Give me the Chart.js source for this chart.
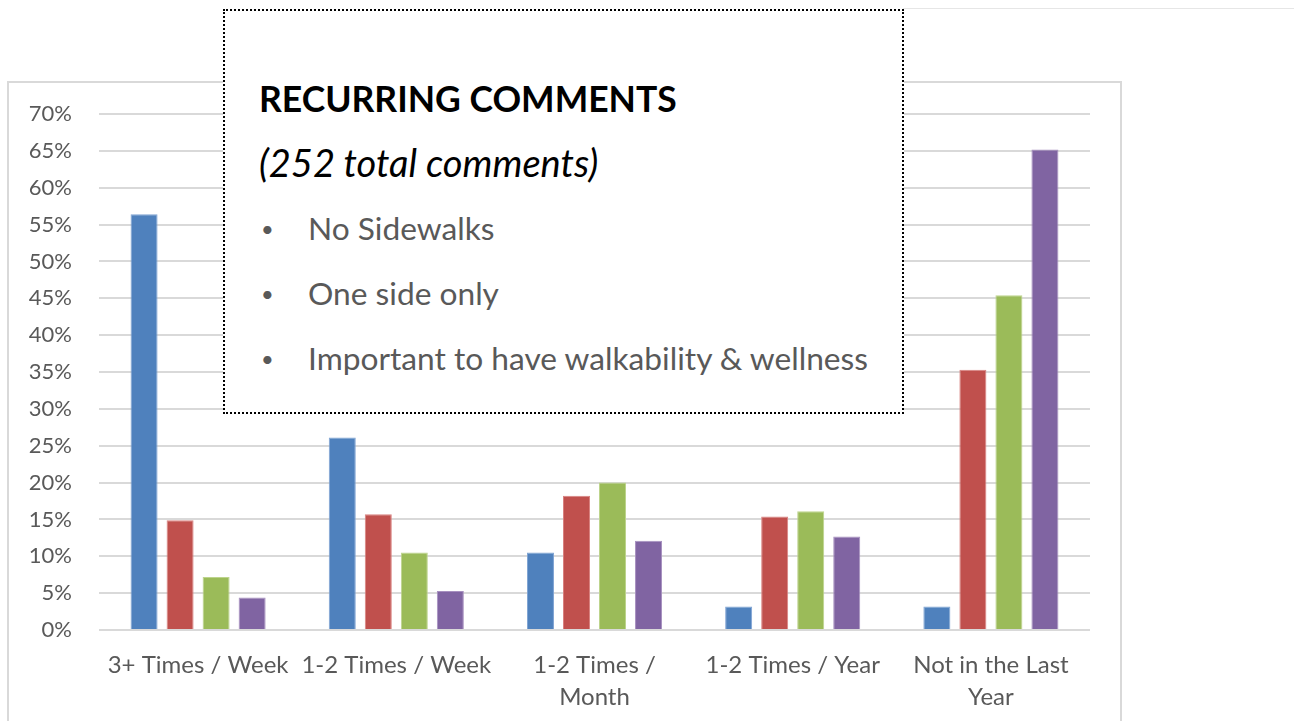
<!DOCTYPE html>
<html>
<head>
<meta charset="utf-8">
<script src="https://cdn.jsdelivr.net/npm/chart.js@4/dist/chart.umd.min.js"></script>
<style>
  html, body { margin: 0; padding: 0; background: #ffffff; }
  body { width: 1294px; height: 721px; position: relative; overflow: hidden; font-family: Lato, "Open Sans", sans-serif; }
  #topRule { position: absolute; left: 903px; top: 8px; width: 391px; height: 0; border-top: 1px solid #e6e6e6; }
  #frame { position: absolute; left: 7px; top: 81px; width: 1115px; height: 700px; border: 2px solid #d9d9d9; box-sizing: border-box; }
  #wrap { position: absolute; left: 0; top: 0; width: 1294px; height: 721px; }
  #note { position: absolute; left: 223px; top: 9px; width: 681px; height: 405px; box-sizing: border-box;
          border: 2px dotted #000; background: #ffffff; }
  #note .t { position: absolute; left: 34px; white-space: nowrap; }
  #note .title { top: 65px; font-weight: 700; font-size: 35.5px; color: #000; line-height: 46px; }
  #note .sub { top: 127px; font-style: italic; font-size: 38px; color: #000; line-height: 48px; }
  #note .item { font-size: 31.7px; color: #595959; line-height: 40px; }
  #note .item .dot { position: absolute; left: 2px; font-size: 22px; top: 1px; }
  #note .item .txt { position: absolute; left: 49px; }
</style>
</head>
<body>
<div id="topRule"></div>
<div id="frame"></div>
<div id="wrap"><canvas id="chart" width="1294" height="721"></canvas></div>
<div id="note">
  <div class="t title">RECURRING COMMENTS</div>
  <div class="t sub">(252 total comments)</div>
  <div class="t item" style="top:197px"><span class="dot">•</span><span class="txt">No Sidewalks</span></div>
  <div class="t item" style="top:262px"><span class="dot">•</span><span class="txt">One side only</span></div>
  <div class="t item" style="top:327px"><span class="dot">•</span><span class="txt">Important to have walkability &amp; wellness</span></div>
</div>
<script>
// Walking frequency categories (multi-line where the axis label wraps)
const categories = [
  ["3+ Times / Week"],
  ["1-2 Times / Week"],
  ["1-2 Times /", "Month"],
  ["1-2 Times / Year"],
  ["Not in the Last", "Year"]
];

// Share of respondents per group, in percent
const groupA = [56.4, 26.1, 10.5, 3.2, 3.2];
const groupB = [14.9, 15.7, 18.2, 15.4, 35.3];
const groupC = [7.2, 10.5, 20.0, 16.1, 45.4];
const groupD = [4.4, 5.3, 12.1, 12.7, 65.2];

// Value axis ticks
const yTicks = [0, 5, 10, 15, 20, 25, 30, 35, 40, 45, 50, 55, 60, 65, 70];

const fills   = ["#4F81BD", "#C0504D", "#9BBB59", "#8064A2"];
const edges   = ["#7FA3D3", "#D98280", "#BDD48C", "#A790C0"];
const seriesNames = ["Group A", "Group B", "Group C", "Group D"];
const seriesData = [groupA, groupB, groupC, groupD];

const datasets = seriesData.map((d, i) => ({
  label: seriesNames[i],
  data: d,
  backgroundColor: fills[i],
  borderColor: edges[i],
  borderWidth: 1,
  categoryPercentage: 0.727,
  barPercentage: 0.75
}));

new Chart(document.getElementById("chart"), {
  type: "bar",
  data: { labels: categories, datasets },
  options: {
    responsive: false,
    animation: false,
    layout: { padding: { left: 0, right: 204, top: 114, bottom: 0 } },
    plugins: { legend: { display: false }, tooltip: { enabled: false } },
    scales: {
      x: {
        grid: { display: false, drawTicks: false },
        border: { display: false },
        ticks: {
          color: "#595959",
          font: { family: "Lato", size: 24, lineHeight: 1.34 },
          padding: 19,
          maxRotation: 0,
          autoSkip: false
        },
        afterFit: (s) => { s.height = 91; }
      },
      y: {
        min: 0,
        max: 70,
        afterBuildTicks: (s) => { s.ticks = yTicks.map(v => ({ value: v })); },
        grid: { color: "#d9d9d9", lineWidth: 2, drawTicks: false },
        border: { display: false },
        ticks: {
          color: "#595959",
          font: { family: "Lato", size: 22 },
          padding: 27,
          callback: (v) => v + "%"
        },
        afterFit: (s) => { s.width = 99; }
      }
    }
  }
});
</script>
</body>
</html>
